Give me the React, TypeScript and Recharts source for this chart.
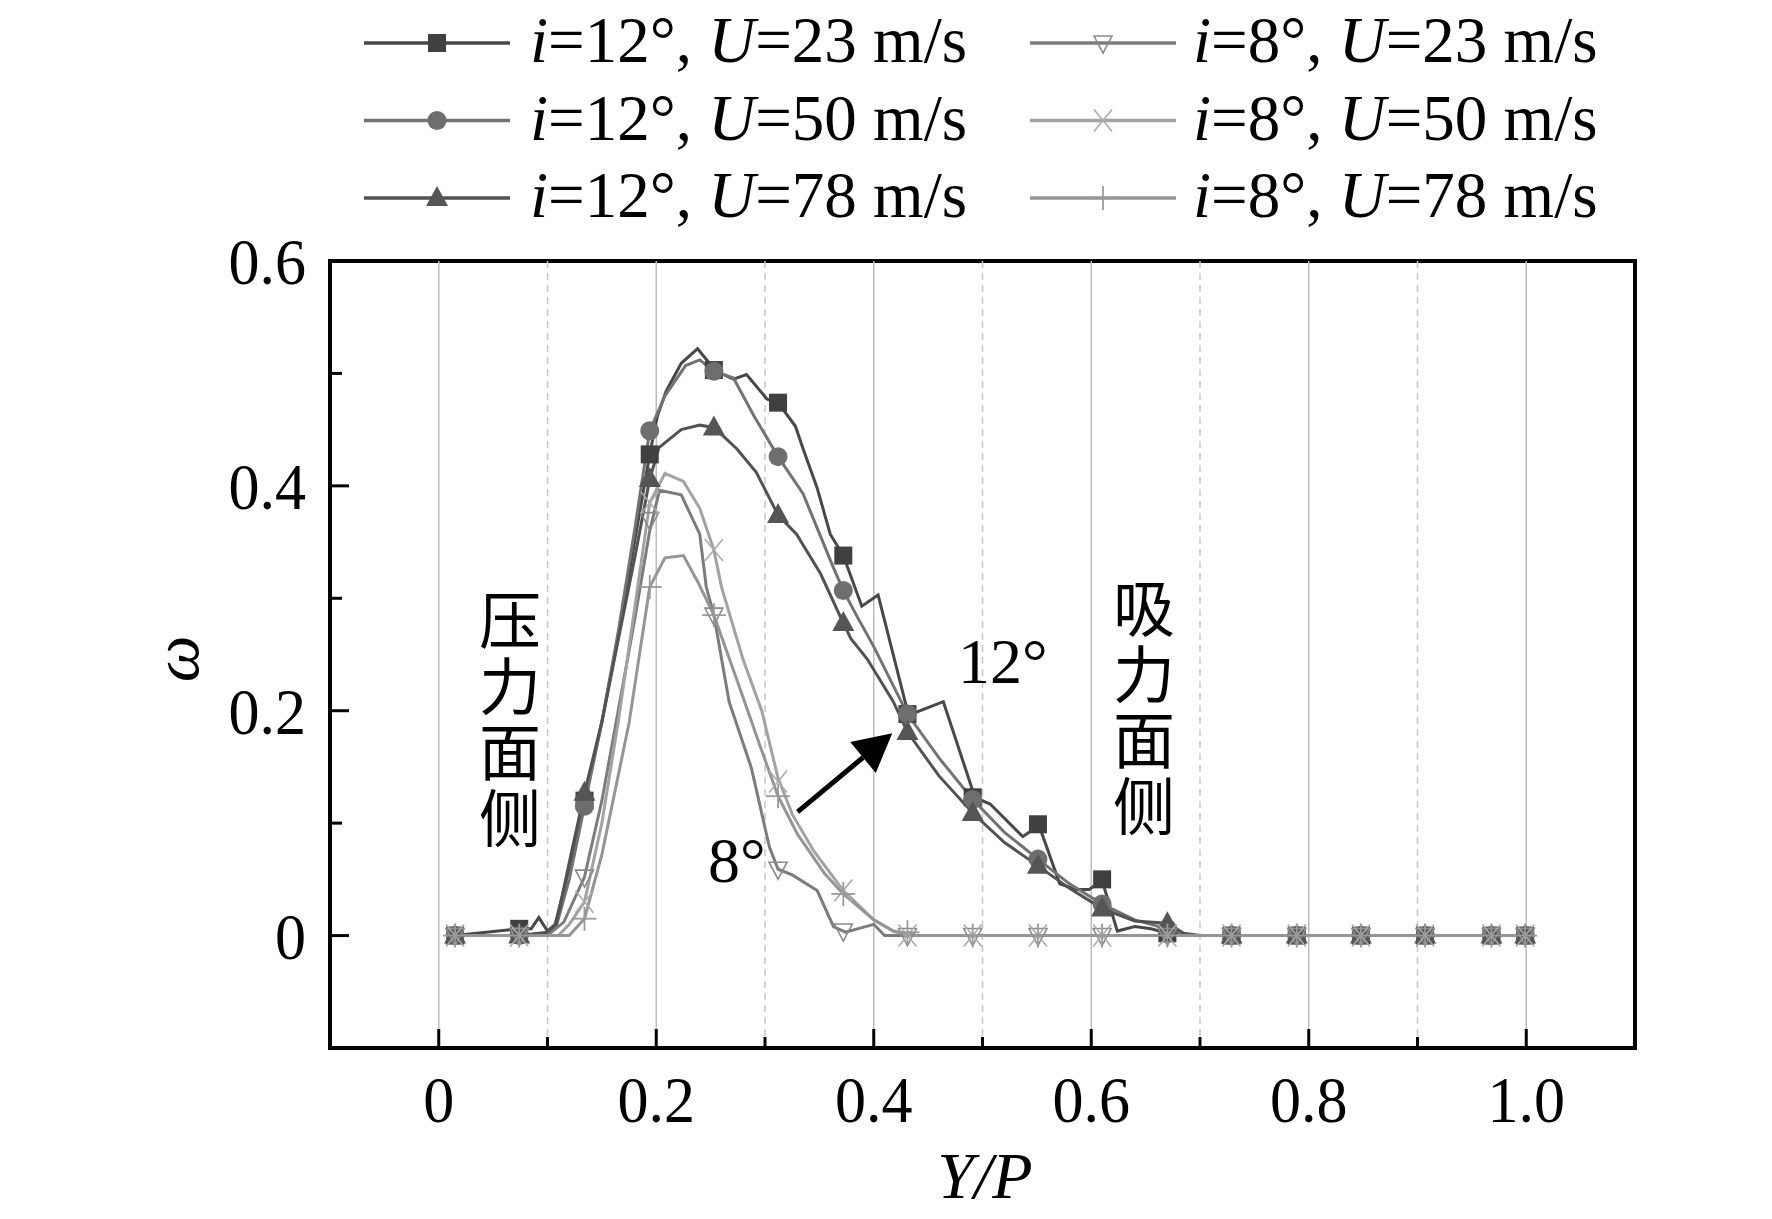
import React from 'react';
import {
  ComposedChart,
  Line,
  Scatter,
  XAxis,
  YAxis,
  ReferenceLine,
  ReferenceArea,
} from 'recharts';

// ---------- data ----------
const MARK_X = [0.015, 0.074, 0.134, 0.194, 0.253, 0.312, 0.372, 0.431, 0.491, 0.551, 0.61, 0.67, 0.729, 0.789, 0.848, 0.907, 0.968, 0.999];

// marker values (at MARK_X)
const M12_23 = [0, 0.006, 0.12, 0.428, 0.503, 0.474, 0.338, 0.197, 0.123, 0.099, 0.05, 0.002, 0, 0, 0, 0, 0, 0];
const M12_50 = [0, 0, 0.115, 0.449, 0.502, 0.426, 0.307, 0.197, 0.121, 0.068, 0.028, 0.006, 0, 0, 0, 0, 0, 0];
const M12_78 = [0, 0, 0.127, 0.406, 0.452, 0.374, 0.278, 0.181, 0.109, 0.062, 0.024, 0.011, 0, 0, 0, 0, 0, 0];
const M8_23 = [0, 0, 0.052, 0.37, 0.285, 0.059, 0.004, 0, 0, 0, 0, 0, 0, 0, 0, 0, 0, 0];
const M8_50 = [0, 0, 0.03, 0.385, 0.343, 0.137, 0.04, 0, 0, 0, 0, 0, 0, 0, 0, 0, 0, 0];
const M8_78 = [0, 0, 0.015, 0.31, 0.285, 0.124, 0.037, 0.003, 0, 0, 0, 0, 0, 0, 0, 0, 0, 0];

// full curves [Y/P, omega]
const L12_23 = [[0.015, 0], [0.074, 0.006], [0.085, 0.006], [0.092, 0.016], [0.1, 0.004], [0.107, 0.01], [0.12, 0.06], [0.134, 0.12], [0.15, 0.19], [0.165, 0.265], [0.18, 0.35], [0.194, 0.428], [0.201, 0.462], [0.209, 0.484], [0.223, 0.509], [0.238, 0.522], [0.249, 0.509], [0.253, 0.503], [0.271, 0.495], [0.283, 0.499], [0.302, 0.477], [0.312, 0.474], [0.328, 0.453], [0.335, 0.433], [0.348, 0.398], [0.36, 0.357], [0.372, 0.338], [0.389, 0.293], [0.404, 0.303], [0.432, 0.196], [0.464, 0.208], [0.493, 0.123], [0.507, 0.117], [0.537, 0.088], [0.552, 0.098], [0.571, 0.046], [0.586, 0.041], [0.598, 0.041], [0.61, 0.049], [0.624, 0.004], [0.64, 0.008], [0.655, 0.006], [0.67, 0.002], [0.69, 0], [0.999, 0]];
const L12_50 = [[0.015, 0], [0.074, 0], [0.1, 0.002], [0.108, 0.008], [0.12, 0.05], [0.134, 0.115], [0.15, 0.19], [0.165, 0.27], [0.18, 0.36], [0.194, 0.449], [0.208, 0.48], [0.227, 0.507], [0.24, 0.512], [0.253, 0.502], [0.271, 0.496], [0.29, 0.462], [0.312, 0.426], [0.335, 0.393], [0.363, 0.327], [0.372, 0.307], [0.384, 0.285], [0.4, 0.257], [0.431, 0.197], [0.46, 0.158], [0.491, 0.121], [0.52, 0.092], [0.551, 0.068], [0.58, 0.046], [0.61, 0.028], [0.64, 0.014], [0.67, 0.006], [0.69, 0], [0.999, 0]];
const L12_78 = [[0.015, 0], [0.074, 0], [0.1, 0.003], [0.108, 0.01], [0.12, 0.065], [0.134, 0.127], [0.15, 0.19], [0.165, 0.263], [0.18, 0.335], [0.194, 0.406], [0.2025, 0.434], [0.223, 0.45], [0.24, 0.454], [0.253, 0.452], [0.274, 0.433], [0.292, 0.412], [0.312, 0.374], [0.329, 0.357], [0.351, 0.322], [0.372, 0.278], [0.379, 0.264], [0.394, 0.246], [0.418, 0.208], [0.431, 0.181], [0.46, 0.142], [0.491, 0.109], [0.52, 0.083], [0.551, 0.062], [0.58, 0.042], [0.61, 0.024], [0.64, 0.013], [0.67, 0.011], [0.685, 0.002], [0.7, 0], [0.999, 0]];
const L8_23 = [[0.015, 0], [0.074, 0], [0.1, 0], [0.115, 0.012], [0.134, 0.052], [0.15, 0.12], [0.165, 0.2], [0.18, 0.28], [0.194, 0.36], [0.203, 0.396], [0.223, 0.392], [0.24, 0.357], [0.246, 0.31], [0.253, 0.285], [0.267, 0.208], [0.2875, 0.149], [0.304, 0.079], [0.312, 0.059], [0.325, 0.054], [0.348, 0.04], [0.363, 0.008], [0.374, 0.003], [0.385, 0.006], [0.4, 0.01], [0.41, 0], [0.999, 0]];
const L8_50 = [[0.015, 0], [0.074, 0], [0.11, 0], [0.12, 0.01], [0.134, 0.03], [0.15, 0.1], [0.165, 0.19], [0.18, 0.29], [0.194, 0.385], [0.208, 0.411], [0.225, 0.404], [0.24, 0.38], [0.253, 0.343], [0.26, 0.31], [0.28, 0.245], [0.297, 0.2], [0.312, 0.14], [0.325, 0.108], [0.345, 0.075], [0.372, 0.04], [0.4, 0.014], [0.418, 0.004], [0.431, 0], [0.999, 0]];
const L8_78 = [[0.015, 0], [0.074, 0], [0.12, 0], [0.134, 0.015], [0.15, 0.072], [0.175, 0.189], [0.194, 0.31], [0.208, 0.336], [0.225, 0.338], [0.238, 0.315], [0.253, 0.285], [0.275, 0.225], [0.295, 0.17], [0.312, 0.124], [0.33, 0.09], [0.355, 0.055], [0.372, 0.037], [0.4, 0.014], [0.418, 0.004], [0.44, 0], [0.999, 0]];

const X_TICKS = [0, 0.1, 0.2, 0.3, 0.4, 0.5, 0.6, 0.7, 0.8, 0.9, 1.0];
const Y_TICKS = [0, 0.1, 0.2, 0.3, 0.4, 0.5, 0.6];
const MAJOR_GRID = [0, 0.2, 0.4, 0.6, 0.8, 1.0];
const MINOR_GRID = [0.1, 0.3, 0.5, 0.7, 0.9];

const ANGLES = ['12', '12', '12', '8', '8', '8'];
const SPEEDS = ['23', '50', '78', '23', '50', '78'];

const ARROW = [{ x: 0.33, y: 0.11 }, { x: 0.417, y: 0.18 }];

// ---------- styling ----------
const SERIF = '"Liberation Serif", "Times New Roman", serif';
const CJK = '"Noto Sans CJK SC", sans-serif';

const SERIES = [
  { line: L12_23, marks: M12_23, color: '#484848', mcolor: '#404040', kind: 'square' },
  { line: L12_50, marks: M12_50, color: '#737373', mcolor: '#6e6e6e', kind: 'circle' },
  { line: L12_78, marks: M12_78, color: '#525252', mcolor: '#555555', kind: 'tri' },
  { line: L8_23, marks: M8_23, color: '#7c7c7c', mcolor: '#8a8a8a', kind: 'tridown' },
  { line: L8_50, marks: M8_50, color: '#a2a2a2', mcolor: '#ababab', kind: 'x' },
  { line: L8_78, marks: M8_78, color: '#959595', mcolor: '#9a9a9a', kind: 'plus' },
];

const toPts = (pairs: number[][]) => pairs.map(([x, y]) => ({ x, y }));
const toMarks = (vals: number[]) => MARK_X.map((x, i) => ({ x, y: vals[i] }));

function Marker({ kind, cx, cy, color }: { kind: string; cx: number; cy: number; color: string }) {
  if (cx == null || cy == null || isNaN(cx) || isNaN(cy)) return null;
  switch (kind) {
    case 'square':
      return <rect x={cx - 9} y={cy - 9} width={18} height={18} fill={color} />;
    case 'circle':
      return <circle cx={cx} cy={cy} r={9.5} fill={color} />;
    case 'tri':
      return <polygon points={`${cx},${cy - 12} ${cx + 11},${cy + 8} ${cx - 11},${cy + 8}`} fill={color} />;
    case 'tridown':
      return <polygon points={`${cx - 9},${cy - 7} ${cx + 9},${cy - 7} ${cx},${cy + 10}`} fill="none" stroke={color} strokeWidth={1.6} />;
    case 'x':
      return (
        <g stroke={color} strokeWidth={1.6}>
          <line x1={cx - 9} y1={cy - 11} x2={cx + 9} y2={cy + 11} />
          <line x1={cx - 9} y1={cy + 11} x2={cx + 9} y2={cy - 11} />
        </g>
      );
    case 'plus':
      return (
        <g stroke={color} strokeWidth={1.8}>
          <line x1={cx - 12} y1={cy} x2={cx + 12} y2={cy} />
          <line x1={cx} y1={cy - 12} x2={cx} y2={cy + 12} />
        </g>
      );
    default:
      return null;
  }
}

const fmt = (v: number) => (Math.abs(v) < 1e-9 ? '0' : v.toFixed(1));
const isMajor = (v: number) => Math.round(v * 10) % 2 === 0;

const XTick = (props: any) => {
  const { x, y, payload } = props;
  const v = payload.value;
  const major = isMajor(v);
  return (
    <g>
      <line x1={x} x2={x} y1={y} y2={y - (major ? 19 : 11)} stroke="#000" strokeWidth={3} />
      {major && (
        <text transform={`translate(${x},${y + 74}) scale(0.94,1)`} textAnchor="middle" fontSize={66} fontFamily={SERIF} fill="#000">
          {fmt(v)}
        </text>
      )}
    </g>
  );
};

const YTick = (props: any) => {
  const { x, y, payload } = props;
  const v = payload.value;
  const major = isMajor(v);
  return (
    <g>
      <line x1={x} x2={x + (major ? 19 : 12)} y1={y} y2={y} stroke="#000" strokeWidth={3} />
      {major && (
        <text transform={`translate(${x - 24},${y + 23}) scale(0.94,1)`} textAnchor="end" fontSize={66} fontFamily={SERIF} fill="#000">
          {fmt(v)}
        </text>
      )}
    </g>
  );
};

const ArrowShape = (props: any) => {
  const { x1, y1, x2, y2 } = props;
  if ([x1, y1, x2, y2].some((v) => v == null || isNaN(v))) return null;
  const dx = x2 - x1;
  const dy = y2 - y1;
  const len = Math.sqrt(dx * dx + dy * dy);
  const ux = dx / len;
  const uy = dy / len;
  const hl = 38;
  const hw = 20;
  const bx = x2 - ux * hl;
  const by = y2 - uy * hl;
  return (
    <g>
      <line x1={x1} y1={y1} x2={bx} y2={by} stroke="#000" strokeWidth={5} />
      <polygon points={`${x2},${y2} ${bx - uy * hw},${by + ux * hw} ${bx + uy * hw},${by - ux * hw}`} fill="#000" />
    </g>
  );
};

function LegendItem({ idx, lx, tx, cy }: { idx: number; lx: number; tx: number; cy: number }) {
  const s = SERIES[idx];
  return (
    <g>
      <line x1={lx} x2={lx + 146} y1={cy} y2={cy} stroke={s.color} strokeWidth={3.5} />
      <Marker kind={s.kind} cx={lx + 73} cy={cy} color={s.mcolor} />
      <text x={tx} y={cy + 19} fontSize={65} fontFamily={SERIF} fill="#000">
        <tspan fontStyle="italic">i</tspan>
        {`=${ANGLES[idx]}°, `}
        <tspan fontStyle="italic">U</tspan>
        {`=${SPEEDS[idx]} m/s`}
      </text>
    </g>
  );
}

const PRESSURE = '压力面侧';
const SUCTION = '吸力面侧';

function VerticalText({ text, cx, top }: { text: string; cx: number; top: number }) {
  return (
    <text
      x={cx}
      y={top}
      fontSize={62}
      fontFamily={CJK}
      fill="#000"
      style={{ writingMode: 'vertical-rl', letterSpacing: '4px' }}
    >
      {text}
    </text>
  );
}

export default function App() {
  return (
    <div style={{ position: 'absolute', left: 0, top: 0, width: 1772, height: 1219, background: '#fff' }}>
      <ComposedChart
        width={1772}
        height={1219}
        margin={{ top: 261, right: 137, bottom: 111, left: 230 }}
      >
        <XAxis
          dataKey="x"
          type="number"
          domain={[-0.1, 1.1]}
          ticks={X_TICKS}
          tick={<XTick />}
          tickLine={false}
          tickSize={0}
          tickMargin={0}
          axisLine={{ stroke: '#000', strokeWidth: 4 }}
          height={60}
          allowDataOverflow
          interval={0}
        />
        <YAxis
          dataKey="y"
          type="number"
          domain={[-0.1, 0.6]}
          ticks={Y_TICKS}
          tick={<YTick />}
          tickLine={false}
          tickSize={0}
          tickMargin={0}
          axisLine={{ stroke: '#000', strokeWidth: 4 }}
          width={100}
          allowDataOverflow
          interval={0}
        />
        {MAJOR_GRID.map((v) => (
          <ReferenceLine key={'M' + v} x={v} stroke="#bdbdbd" strokeWidth={1.5} />
        ))}
        {MINOR_GRID.map((v) => (
          <ReferenceLine key={'m' + v} x={v} stroke="#c6c6c6" strokeWidth={1.5} strokeDasharray="7 5" />
        ))}
        <ReferenceArea x1={-0.1} x2={1.1} y1={-0.1} y2={0.6} fill="none" fillOpacity={0} stroke="#000" strokeWidth={4} />
        {SERIES.map((s, i) => (
          <Line
            key={'l' + i}
            data={toPts(s.line)}
            dataKey="y"
            type="linear"
            stroke={s.color}
            strokeWidth={3}
            dot={false}
            activeDot={false}
            isAnimationActive={false}
          />
        ))}
        {SERIES.map((s, i) => (
          <Scatter
            key={'s' + i}
            data={toMarks(s.marks)}
            dataKey="y"
            isAnimationActive={false}
            shape={(p: any) => <Marker kind={s.kind} cx={p.cx} cy={p.cy} color={s.mcolor} />}
          />
        ))}
        <ReferenceLine segment={ARROW} shape={<ArrowShape />} />
      </ComposedChart>
      <svg
        width={1772}
        height={1219}
        style={{ position: 'absolute', left: 0, top: 0, pointerEvents: 'none' }}
      >
        {[0, 1, 2].map((r) => (
          <LegendItem key={'a' + r} idx={r} lx={364} tx={530} cy={43 + r * 77.5} />
        ))}
        {[3, 4, 5].map((r) => (
          <LegendItem key={'b' + r} idx={r} lx={1030} tx={1193} cy={43 + (r - 3) * 77.5} />
        ))}
        <text transform="translate(198,659) rotate(-90)" textAnchor="middle" fontSize={66} fontStyle="italic" fontFamily={SERIF}>
          ω
        </text>
        <text x={985} y={1198} textAnchor="middle" fontSize={66} fontStyle="italic" fontFamily={SERIF}>
          Y/P
        </text>
        <VerticalText text={PRESSURE} cx={510} top={589} />
        <VerticalText text={SUCTION} cx={1144} top={577} />
        <text x={958} y={683} fontSize={64} fontFamily={SERIF}>12°</text>
        <text x={708} y={882} fontSize={64} fontFamily={SERIF}>8°</text>
      </svg>
    </div>
  );
}
